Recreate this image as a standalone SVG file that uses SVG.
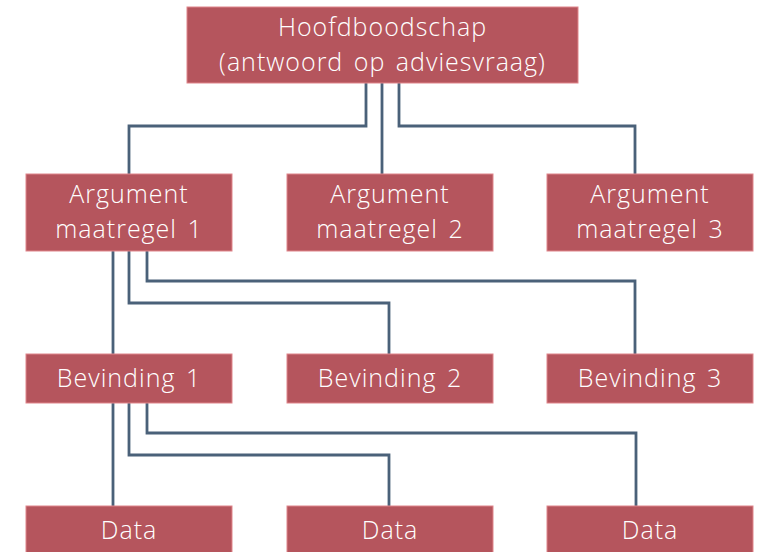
<svg xmlns="http://www.w3.org/2000/svg" width="761" height="552" viewBox="0 0 761 552">
<style>
.box{fill:#B5555D;stroke:#E0868B;stroke-width:1}
.t{font-family:"Open Sans","Noto Sans",sans-serif;font-size:25px;font-weight:300;letter-spacing:1px;word-spacing:3px;fill:#FFFFFF;text-anchor:middle}
.c{fill:none;stroke:#4A6179;stroke-width:2.8}
</style>
<rect width="761" height="552" fill="#FFFFFF"/>
<g id="connectors">
<path class="c" d="M366 83 V126 H129 V174"/>
<path class="c" d="M382 83 V174"/>
<path class="c" d="M399 83 V126 H635 V174"/>
<path class="c" d="M113 251 V354"/>
<path class="c" d="M129 251 V303 H389 V354"/>
<path class="c" d="M147 251 V281 H635 V354"/>
<path class="c" d="M113 403 V506"/>
<path class="c" d="M129 403 V455 H389 V506"/>
<path class="c" d="M147 403 V433 H636 V506"/>
</g>
<g id="hoofd"><rect class="box" x="187" y="7" width="391" height="76"/><text class="t"><tspan x="382.5" y="35.5">Hoofdboodschap</tspan><tspan x="382.5" y="70.5">(antwoord op adviesvraag)</tspan></text></g>
<g id="arg1"><rect class="box" x="26" y="174" width="206" height="77"/><text class="t"><tspan x="129" y="203">Argument</tspan><tspan x="129" y="238">maatregel 1</tspan></text></g>
<g id="arg2"><rect class="box" x="287" y="174" width="206" height="77"/><text class="t"><tspan x="390" y="203">Argument</tspan><tspan x="390" y="238">maatregel 2</tspan></text></g>
<g id="arg3"><rect class="box" x="547" y="174" width="206" height="77"/><text class="t"><tspan x="650" y="203">Argument</tspan><tspan x="650" y="238">maatregel 3</tspan></text></g>
<g id="bev1"><rect class="box" x="26" y="354" width="206" height="49"/><text class="t" x="129" y="387">Bevinding 1</text></g>
<g id="bev2"><rect class="box" x="287" y="354" width="206" height="49"/><text class="t" x="390" y="387">Bevinding 2</text></g>
<g id="bev3"><rect class="box" x="547" y="354" width="206" height="49"/><text class="t" x="650" y="387">Bevinding 3</text></g>
<g id="data1"><rect class="box" x="26" y="506" width="206" height="60"/><text class="t" x="129" y="539">Data</text></g>
<g id="data2"><rect class="box" x="287" y="506" width="206" height="60"/><text class="t" x="390" y="539">Data</text></g>
<g id="data3"><rect class="box" x="547" y="506" width="206" height="60"/><text class="t" x="650" y="539">Data</text></g>
</svg>
